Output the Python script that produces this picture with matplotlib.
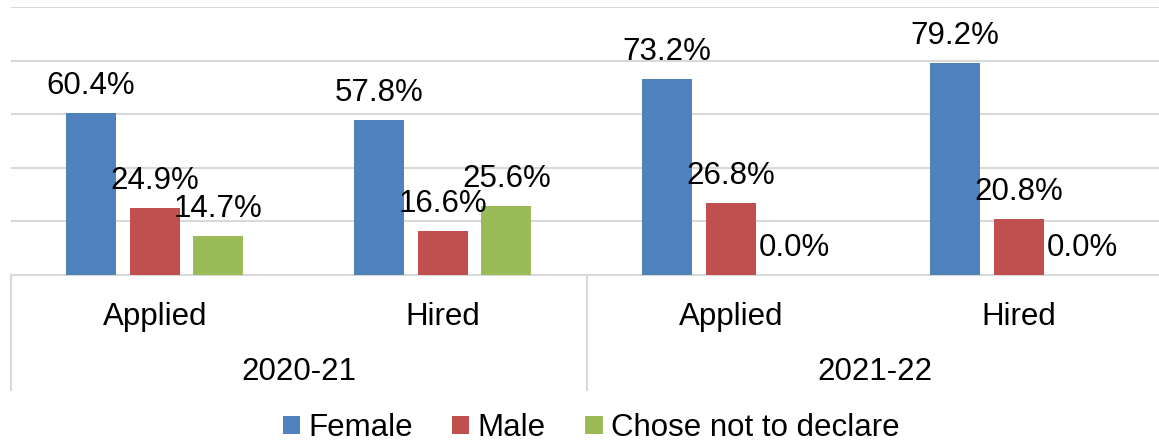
import numpy as np
import matplotlib
matplotlib.use("Agg")
import matplotlib.pyplot as plt

plt.rcParams['font.family'] = ['Liberation Sans', 'DejaVu Sans']

# data
categories = ['Applied', 'Hired', 'Applied', 'Hired']
years = ['2020-21', '2021-22']
series_names = ['Female', 'Male', 'Chose not to declare']
female = [60.4, 57.8, 73.2, 79.2]
male = [24.9, 16.6, 26.8, 20.8]
not_declared = [14.7, 25.6, 0.0, 0.0]

colors = ['#4F81BD', '#C0504D', '#9BBB59']
grid_col = '#D9D9D9'
fs = 22.5

fig = plt.figure(figsize=(11.59, 4.46), dpi=100)
# axes spans from x=10.7px to 1163px (right edge slightly off the picture)
ax = fig.add_axes([10.7/1159, 171/446, (1163-10.7)/1159, (275-7.3)/446])

x = np.arange(len(categories))
w = 0.1736
off = 0.221
for i, (vals, name) in enumerate(zip([female, male, not_declared], series_names)):
    xs = x + (i - 1) * off
    ax.bar(xs, vals, width=w, color=colors[i], label=name, zorder=3)
    for xi, v in zip(xs, vals):
        ax.annotate(f'{v:.1f}%', (xi, v), xytext=(0, 13.7), textcoords='offset points',
                    ha='center', va='baseline', fontsize=fs, zorder=4)

ax.set_xlim(-0.5, len(categories) - 0.5)
ax.set_ylim(0, 100)
ax.set_yticks(np.arange(0, 101, 20))
ax.yaxis.grid(True, color=grid_col, linewidth=1.5, zorder=0)
ax.tick_params(axis='y', length=0, labelleft=False)
ax.set_xticks([])
for s in ['left', 'right', 'top']:
    ax.spines[s].set_visible(False)
ax.spines['bottom'].set_color(grid_col)
ax.spines['bottom'].set_linewidth(1.5)

# multi-level category labels
trans = ax.get_xaxis_transform()
h = 275 - 7.3
for xi, c in zip(x, categories):
    ax.text(xi, -50/h, c, transform=trans, ha='center', va='baseline', fontsize=fs)
for j, yr in enumerate(years):
    ax.text(2*j + 0.5, -105/h, yr, transform=trans, ha='center', va='baseline', fontsize=fs)
for xs in [-0.5, 1.5, 3.5]:
    ax.plot([xs, xs], [0, -(390-275)/h], transform=trans, color=grid_col,
            linewidth=1.5, clip_on=False)

fig.legend(loc='center', bbox_to_anchor=(591/1159, 18/446), ncol=3, frameon=False,
           fontsize=fs, handlelength=0.55, handleheight=0.55, handletextpad=0.26,
           columnspacing=1.27, borderpad=0, borderaxespad=0)

fig.savefig('out.png', dpi=100)
